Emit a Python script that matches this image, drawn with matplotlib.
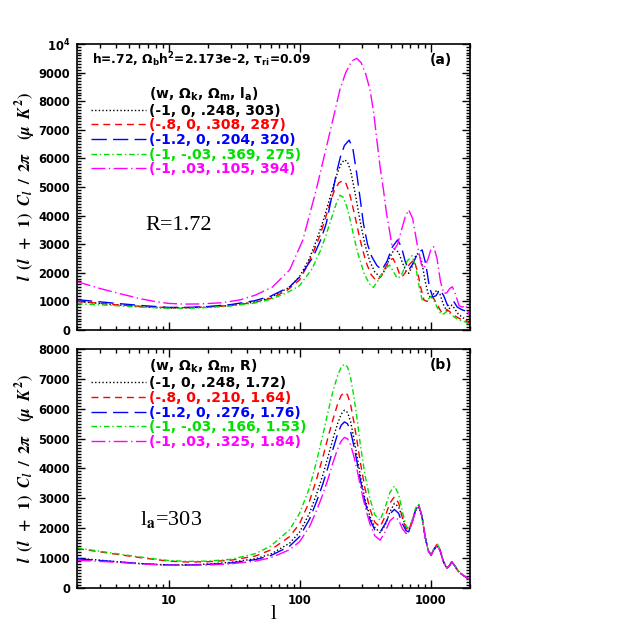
import matplotlib
matplotlib.use('Agg')
import matplotlib.pyplot as plt
from matplotlib.lines import Line2D
from matplotlib.ticker import MultipleLocator, LogLocator, FixedLocator, FuncFormatter, NullFormatter

# ---- data (l, l(l+1)C_l/2pi in uK^2) ----

# l grid used by panel (b) and by the shared black model
l_b = [2, 3, 4, 6, 8, 10, 14, 20, 30, 46, 60, 84, 100, 119, 135, 151, 165, 180, 195, 208,
       220, 232, 245, 260, 275, 290, 315, 344, 375, 412, 450, 490, 529, 570, 610, 650, 680, 720,
       770, 813, 860, 910, 960, 1010, 1060, 1121, 1180, 1250, 1330, 1390, 1452, 1520, 1620, 1750,
       1870, 2000]

# model (-1, 0, .248): l_a=303, R=1.72 -> same curve in both panels
cl_black = [1000, 930, 880, 820, 790, 770, 775, 800, 860, 980, 1130, 1500, 1870, 2500, 3150, 3800,
            4400, 5000, 5500, 5820, 5950, 5880, 5580, 5000, 4400, 3800, 3000, 2400, 2030, 1850,
            2100, 2550, 2830, 2720, 2350, 2050, 1980, 2200, 2600, 2700, 2350, 1700, 1250, 1110,
            1280, 1400, 1250, 900, 660, 750, 870, 760, 570, 440, 360, 270]

# panel (b): fixed l_a=303, different R
cl_red_b = [1320, 1210, 1130, 1020, 950, 900, 870, 880, 930, 1070, 1270, 1720, 2150, 2900, 3650,
            4400, 5050, 5650, 6150, 6450, 6550, 6470, 6150, 5550, 4900, 4250, 3350, 2650, 2200,
            2050, 2400, 2850, 3050, 2850, 2350, 2000, 1920, 2200, 2650, 2780, 2400, 1710, 1250,
            1100, 1300, 1460, 1280, 900, 650, 740, 880, 770, 570, 440, 360, 270]
cl_blue_b = [980, 920, 880, 820, 790, 770, 770, 790, 840, 950, 1080, 1400, 1720, 2300, 2900, 3500,
             4050, 4650, 5150, 5450, 5560, 5500, 5250, 4750, 4200, 3650, 2900, 2300, 1950, 1870,
             2150, 2480, 2630, 2500, 2150, 1920, 1880, 2180, 2620, 2770, 2400, 1700, 1250, 1100,
             1290, 1430, 1270, 900, 650, 740, 870, 760, 570, 440, 360, 270]
cl_green_b = [1340, 1230, 1150, 1040, 970, 920, 890, 900, 960, 1150, 1400, 1950, 2500, 3350, 4250,
              5150, 5900, 6600, 7100, 7400, 7490, 7400, 7050, 6400, 5650, 4850, 3800, 3000, 2450,
              2270, 2700, 3200, 3410, 3150, 2550, 2080, 1950, 2250, 2680, 2800, 2420, 1720, 1260,
              1110, 1320, 1500, 1300, 910, 660, 760, 900, 780, 580, 450, 370, 270]
cl_mag_b = [930, 890, 860, 810, 780, 760, 760, 770, 810, 900, 1010, 1280, 1550, 2050, 2600, 3150,
            3650, 4200, 4650, 4920, 5040, 5000, 4800, 4400, 3950, 3450, 2750, 2150, 1750, 1600,
            1880, 2250, 2380, 2280, 1980, 1830, 1830, 2150, 2600, 2760, 2380, 1700, 1250, 1090,
            1280, 1420, 1260, 890, 650, 740, 870, 760, 570, 440, 360, 270]

# panel (a): fixed R=1.72, different l_a
l_red_a = [2, 4, 6, 10, 14, 20, 30, 45, 60, 80, 100, 113, 128, 143, 156, 170, 185, 200, 213, 225,
           240, 255, 270, 290, 320, 350, 385, 420, 460, 490, 517, 550, 580, 605, 640, 690, 745, 790,
           840, 890, 940, 1000, 1050, 1120, 1200, 1270, 1330, 1400, 1550, 1700, 1850, 2000]
cl_red_a = [1000, 880, 830, 780, 785, 805, 860, 960, 1100, 1380, 1750, 2200, 2750, 3300, 3850, 4400,
            4900, 5150, 5220, 5150, 4800, 4300, 3800, 3150, 2400, 1950, 1720, 1880, 2250, 2450, 2500,
            2250, 1950, 1860, 2000, 2300, 2450, 2100, 1500, 1050, 1000, 1150, 1120, 900, 650, 620,
            720, 640, 480, 380, 330, 230]

l_blue_a = [2, 4, 6, 10, 14, 20, 30, 45, 60, 84, 100, 127, 145, 160, 175, 191, 205, 220, 239, 255,
            273, 290, 307, 330, 356, 390, 425, 465, 510, 560, 600, 640, 681, 730, 800, 863, 920, 980,
            1040, 1100, 1180, 1260, 1350, 1420, 1500, 1600, 1750, 1900, 2000]
cl_blue_a = [1060, 930, 860, 790, 790, 820, 890, 1020, 1180, 1510, 1850, 2560, 3150, 3730, 4600, 5480,
             6050, 6450, 6640, 6350, 5480, 4600, 3730, 3000, 2560, 2250, 2100, 2400, 2900, 3150, 2900,
             2400, 2100, 2300, 2700, 2800, 2300, 1500, 1150, 1200, 1400, 1200, 850, 900, 1000, 800,
             700, 650, 500]

l_green_a = [2, 4, 6, 10, 14, 20, 30, 45, 60, 80, 100, 125, 145, 160, 175, 190, 203, 215, 230, 245,
             260, 280, 310, 340, 366, 400, 440, 486, 520, 550, 570, 610, 660, 723, 770, 820, 863, 920,
             1000, 1050, 1120, 1200, 1260, 1330, 1420, 1550, 1700, 1850, 2000]
cl_green_a = [920, 850, 800, 760, 760, 785, 840, 940, 1070, 1300, 1550, 2150, 2800, 3350, 3900, 4400,
              4710, 4650, 4300, 3800, 3250, 2650, 2000, 1620, 1490, 1750, 2100, 2270, 2050, 1850, 1810,
              2000, 2400, 2600, 2200, 1500, 1050, 1000, 1160, 1080, 800, 560, 560, 650, 560, 420, 330,
              280, 170]

l_mag_a = [2, 3, 4, 6, 8, 10, 13, 17, 25, 35, 46, 62, 84, 106, 134, 165, 185, 203, 225, 250, 273,
           295, 320, 345, 368, 389, 412, 437, 462, 490, 505, 530, 560, 600, 640, 681, 730, 790, 850,
           890, 960, 1010, 1059, 1120, 1190, 1260, 1330, 1400, 1468, 1550, 1650, 1750, 1850, 2000]
cl_mag_a = [1690, 1450, 1300, 1100, 990, 930, 905, 910, 950, 1050, 1220, 1500, 2100, 3150, 4900, 6640,
            7600, 8400, 9000, 9400, 9500, 9350, 8950, 8400, 7600, 6640, 5700, 4900, 4050, 3380, 3000,
            2820, 3000, 3500, 3950, 4200, 3900, 3000, 2300, 2150, 2500, 2850, 2910, 2500, 1700, 1280,
            1300, 1450, 1510, 1250, 850, 800, 870, 470]

labels_a = ['(-1, 0, .248, 303)', '(-.8, 0, .308, 287)', '(-1.2, 0, .204, 320)',
            '(-1, -.03, .369, 275)', '(-1, .03, .105, 394)']
labels_b = ['(-1, 0, .248, 1.72)', '(-.8, 0, .210, 1.64)', '(-1.2, 0, .276, 1.76)',
            '(-1, -.03, .166, 1.53)', '(-1, .03, .325, 1.84)']

colors = ['black', '#ff0000', '#0000ff', '#00e000', '#ff00ff']
styles = [(0, (1, 1.6)), (0, (5, 3.5)), (0, (11, 4.5)), (0, (4, 2, 1, 2)), (0, (10, 2.5, 1, 2.5))]

FS = 10        # legend / annotation text
TICK_FS = 8.3  # tick labels
plt.rcParams['font.family'] = 'DejaVu Sans'
plt.rcParams['font.weight'] = 'bold'

# y label, spread out like the reference lettering
YLABEL = (r'$l\;\;(l\;\;+\;\;1)\;\;C_l\;\;/\;\;2\pi\;\;\;\;(\mu\;\;K^2)$')

fig = plt.figure(figsize=(6.27, 6.27), dpi=100, facecolor='white')
ax_a = fig.add_axes([0.1228, 0.4737, 0.6268, 0.4561])
ax_b = fig.add_axes([0.1228, 0.0622, 0.6268, 0.3812])

curves_a = [(l_b, cl_black), (l_red_a, cl_red_a), (l_blue_a, cl_blue_a),
            (l_green_a, cl_green_a), (l_mag_a, cl_mag_a)]
curves_b = [(l_b, cl_black), (l_b, cl_red_b), (l_b, cl_blue_b),
            (l_b, cl_green_b), (l_b, cl_mag_b)]


def style_axis(ax, ymax, show_xlabels):
    ax.set_xscale('log')
    ax.set_xlim(2, 2000)
    ax.set_ylim(0, ymax)
    ax.xaxis.set_major_locator(FixedLocator([10, 100, 1000]))
    ax.xaxis.set_minor_locator(LogLocator(base=10, subs=range(2, 10), numticks=20))
    ax.xaxis.set_minor_formatter(NullFormatter())
    if show_xlabels:
        ax.xaxis.set_major_formatter(FuncFormatter(lambda v, p: '%d' % v))
    else:
        ax.xaxis.set_major_formatter(NullFormatter())
    ax.yaxis.set_major_locator(MultipleLocator(1000))
    ax.yaxis.set_minor_locator(MultipleLocator(100))
    ax.tick_params(which='both', direction='in', top=True, right=True, width=1.0)
    ax.tick_params(which='major', length=6, labelsize=TICK_FS)
    ax.tick_params(axis='y', which='major', pad=5)
    ax.tick_params(axis='x', which='major', pad=4)
    ax.tick_params(which='minor', length=3)
    for sp in ax.spines.values():
        sp.set_linewidth(1.2)
    ax.set_ylabel(YLABEL, fontsize=12, math_fontfamily='stix')
    ax.yaxis.set_label_coords(-0.1, 0.5)


def add_legend(ax, header, labels, ytop):
    handles = [Line2D([], [], color='none')]
    for c, s in zip(colors, styles):
        handles.append(Line2D([], [], color=c, linestyle=s, linewidth=1.0))
    leg = ax.legend(handles, [header] + labels, loc='upper left', bbox_to_anchor=(0.035, ytop),
                    frameon=False, fontsize=FS, handlelength=4.0, handletextpad=0.2,
                    labelspacing=0.05, borderpad=0, borderaxespad=0,
                    labelcolor=['black'] + colors)
    return leg


# ---- panel (a) ----
for (lv, cv), c, s in zip(curves_a, colors, styles):
    ax_a.plot(lv, cv, color=c, linestyle=s, linewidth=1.0)
style_axis(ax_a, 10000, False)
ax_a.yaxis.set_major_formatter(FuncFormatter(
    lambda v, p: r'$\mathbf{10^{4}}$' if v >= 10000 else '%d' % v))
add_legend(ax_a, r'(w, Ω$_{\mathbf{k}}$, Ω$_{\mathbf{m}}$, l$_{\mathbf{a}}$)', labels_a, 0.855)
ax_a.text(0.038, 0.944, r'h=.72, Ω$_{\mathbf{b}}$h$^{\mathbf{2}}$=2.173e-2, τ$_{\mathbf{ri}}$=0.09',
          transform=ax_a.transAxes, fontsize=8.8, va='center', ha='left')
ax_a.text(0.955, 0.944, '(a)', transform=ax_a.transAxes, fontsize=FS, va='center', ha='right')
ax_a.text(0.173, 0.367, 'R=1.72', transform=ax_a.transAxes, fontsize=16, va='center',
          ha='left', family='Liberation Serif', weight='normal')

# ---- panel (b) ----
for (lv, cv), c, s in zip(curves_b, colors, styles):
    ax_b.plot(lv, cv, color=c, linestyle=s, linewidth=1.0)
style_axis(ax_b, 8000, True)
ax_b.yaxis.set_major_formatter(FuncFormatter(lambda v, p: '%d' % v))
add_legend(ax_b, r'(w, Ω$_{\mathbf{k}}$, Ω$_{\mathbf{m}}$, R)', labels_b, 0.962)
ax_b.text(0.955, 0.933, '(b)', transform=ax_b.transAxes, fontsize=FS, va='center', ha='right')
ax_b.text(0.16, 0.285, r'l$_{\rm a}$=303', transform=ax_b.transAxes, fontsize=16, va='center',
          ha='left', family='Liberation Serif', weight='normal', math_fontfamily='stix')
ax_b.set_xlabel('l', fontsize=15, family='Liberation Serif', weight='normal', labelpad=-1)

plt.savefig('out.png', dpi=100, facecolor='white')
plt.close()
